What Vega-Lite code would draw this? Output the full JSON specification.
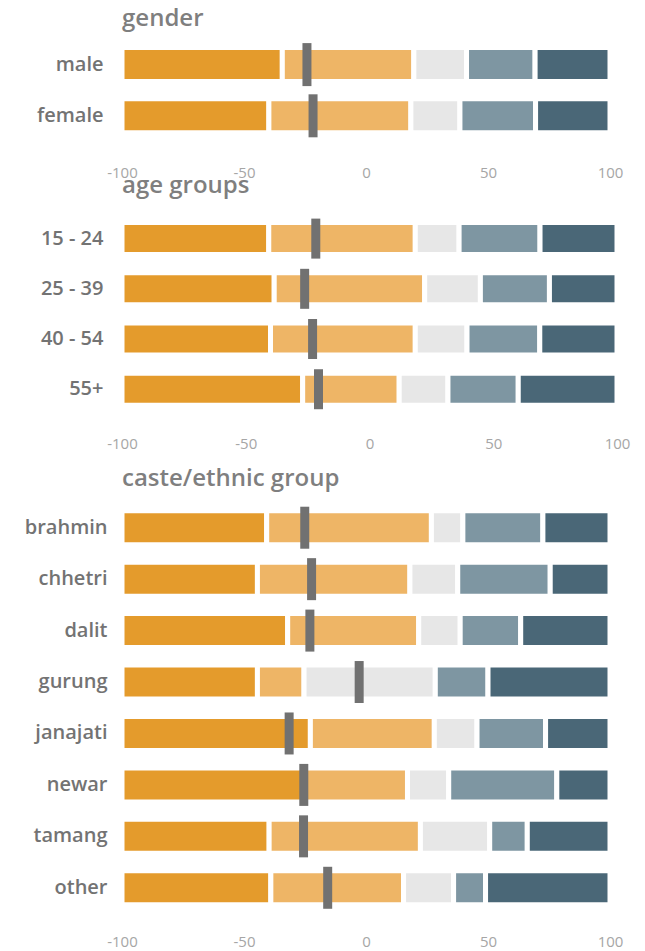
{
  "$schema": "https://vega.github.io/schema/vega-lite/v6.json",
  "background": "white",
  "padding": {"left": 24, "top": 7, "right": 5, "bottom": 0},
  "bounds": "flush",
  "spacing": 71.5,
  "config": {
    "view": {"stroke": null},
    "font": "Open Sans",
    "title": {"anchor": "start", "frame": "group", "fontSize": 24, "fontWeight": 600, "color": "#7f7f7f", "font": "Open Sans", "baseline": "alphabetic"},
    "axisX": {"domain": false, "ticks": false, "grid": false, "labelColor": "#a6a6a6", "labelFontSize": 15, "labelFont": "Open Sans", "labelFlush": false, "title": null, "labelExpr": "'' + datum.value"},
    "axisY": {"domain": false, "ticks": false, "grid": false, "labelColor": "#737373", "labelFontSize": 20, "labelFontWeight": 600, "labelFont": "Open Sans", "title": null}
  },
  "datasets": {
    "segs": [
      {"panel": "gender", "group": "male", "seg": "1", "start": -100, "end": -34.3},
      {"panel": "gender", "group": "male", "seg": "2", "start": -34.3, "end": 19.6},
      {"panel": "gender", "group": "male", "seg": "3", "start": 19.6, "end": 41.2},
      {"panel": "gender", "group": "male", "seg": "4", "start": 41.2, "end": 69.3},
      {"panel": "gender", "group": "male", "seg": "5", "start": 69.3, "end": 100},
      {"panel": "gender", "group": "female", "seg": "1", "start": -100, "end": -39.8},
      {"panel": "gender", "group": "female", "seg": "2", "start": -39.8, "end": 18.4},
      {"panel": "gender", "group": "female", "seg": "3", "start": 18.4, "end": 38.5},
      {"panel": "gender", "group": "female", "seg": "4", "start": 38.5, "end": 69.5},
      {"panel": "gender", "group": "female", "seg": "5", "start": 69.5, "end": 100},

      {"panel": "age", "group": "15 - 24", "seg": "1", "start": -100, "end": -40.7},
      {"panel": "age", "group": "15 - 24", "seg": "2", "start": -40.7, "end": 18.5},
      {"panel": "age", "group": "15 - 24", "seg": "3", "start": 18.5, "end": 36.2},
      {"panel": "age", "group": "15 - 24", "seg": "4", "start": 36.2, "end": 68.9},
      {"panel": "age", "group": "15 - 24", "seg": "5", "start": 68.9, "end": 100},
      {"panel": "age", "group": "25 - 39", "seg": "1", "start": -100, "end": -38.5},
      {"panel": "age", "group": "25 - 39", "seg": "2", "start": -38.5, "end": 22.3},
      {"panel": "age", "group": "25 - 39", "seg": "3", "start": 22.3, "end": 44.8},
      {"panel": "age", "group": "25 - 39", "seg": "4", "start": 44.8, "end": 72.7},
      {"panel": "age", "group": "25 - 39", "seg": "5", "start": 72.7, "end": 100},
      {"panel": "age", "group": "40 - 54", "seg": "1", "start": -100, "end": -40.0},
      {"panel": "age", "group": "40 - 54", "seg": "2", "start": -40.0, "end": 18.5},
      {"panel": "age", "group": "40 - 54", "seg": "3", "start": 18.5, "end": 39.4},
      {"panel": "age", "group": "40 - 54", "seg": "4", "start": 39.4, "end": 68.8},
      {"panel": "age", "group": "40 - 54", "seg": "5", "start": 68.8, "end": 100},
      {"panel": "age", "group": "55+", "seg": "1", "start": -100, "end": -27.0},
      {"panel": "age", "group": "55+", "seg": "2", "start": -27.0, "end": 12.0},
      {"panel": "age", "group": "55+", "seg": "3", "start": 12.0, "end": 31.7},
      {"panel": "age", "group": "55+", "seg": "4", "start": 31.7, "end": 60.1},
      {"panel": "age", "group": "55+", "seg": "5", "start": 60.1, "end": 100},

      {"panel": "caste", "group": "brahmin", "seg": "1", "start": -100, "end": -40.7},
      {"panel": "caste", "group": "brahmin", "seg": "2", "start": -40.7, "end": 26.8},
      {"panel": "caste", "group": "brahmin", "seg": "3", "start": 26.8, "end": 39.7},
      {"panel": "caste", "group": "brahmin", "seg": "4", "start": 39.7, "end": 72.5},
      {"panel": "caste", "group": "brahmin", "seg": "5", "start": 72.5, "end": 100},
      {"panel": "caste", "group": "chhetri", "seg": "1", "start": -100, "end": -44.5},
      {"panel": "caste", "group": "chhetri", "seg": "2", "start": -44.5, "end": 18.0},
      {"panel": "caste", "group": "chhetri", "seg": "3", "start": 18.0, "end": 37.6},
      {"panel": "caste", "group": "chhetri", "seg": "4", "start": 37.6, "end": 75.5},
      {"panel": "caste", "group": "chhetri", "seg": "5", "start": 75.5, "end": 100},
      {"panel": "caste", "group": "dalit", "seg": "1", "start": -100, "end": -32.1},
      {"panel": "caste", "group": "dalit", "seg": "2", "start": -32.1, "end": 21.6},
      {"panel": "caste", "group": "dalit", "seg": "3", "start": 21.6, "end": 38.6},
      {"panel": "caste", "group": "dalit", "seg": "4", "start": 38.6, "end": 63.4},
      {"panel": "caste", "group": "dalit", "seg": "5", "start": 63.4, "end": 100},
      {"panel": "caste", "group": "gurung", "seg": "1", "start": -100, "end": -44.5},
      {"panel": "caste", "group": "gurung", "seg": "2", "start": -44.5, "end": -25.4},
      {"panel": "caste", "group": "gurung", "seg": "3", "start": -25.4, "end": 28.4},
      {"panel": "caste", "group": "gurung", "seg": "4", "start": 28.4, "end": 50.0},
      {"panel": "caste", "group": "gurung", "seg": "5", "start": 50.0, "end": 100},
      {"panel": "caste", "group": "janajati", "seg": "1", "start": -100, "end": -22.8},
      {"panel": "caste", "group": "janajati", "seg": "2", "start": -22.8, "end": 28.0},
      {"panel": "caste", "group": "janajati", "seg": "3", "start": 28.0, "end": 45.5},
      {"panel": "caste", "group": "janajati", "seg": "4", "start": 45.5, "end": 73.6},
      {"panel": "caste", "group": "janajati", "seg": "5", "start": 73.6, "end": 100},
      {"panel": "caste", "group": "newar", "seg": "1", "start": -100, "end": -26.0},
      {"panel": "caste", "group": "newar", "seg": "2", "start": -26.0, "end": 17.0},
      {"panel": "caste", "group": "newar", "seg": "3", "start": 17.0, "end": 33.9},
      {"panel": "caste", "group": "newar", "seg": "4", "start": 33.9, "end": 78.2},
      {"panel": "caste", "group": "newar", "seg": "5", "start": 78.2, "end": 100},
      {"panel": "caste", "group": "tamang", "seg": "1", "start": -100, "end": -39.7},
      {"panel": "caste", "group": "tamang", "seg": "2", "start": -39.7, "end": 22.3},
      {"panel": "caste", "group": "tamang", "seg": "3", "start": 22.3, "end": 50.7},
      {"panel": "caste", "group": "tamang", "seg": "4", "start": 50.7, "end": 66.1},
      {"panel": "caste", "group": "tamang", "seg": "5", "start": 66.1, "end": 100},
      {"panel": "caste", "group": "other", "seg": "1", "start": -100, "end": -39.0},
      {"panel": "caste", "group": "other", "seg": "2", "start": -39.0, "end": 15.4},
      {"panel": "caste", "group": "other", "seg": "3", "start": 15.4, "end": 35.9},
      {"panel": "caste", "group": "other", "seg": "4", "start": 35.9, "end": 49.0},
      {"panel": "caste", "group": "other", "seg": "5", "start": 49.0, "end": 100}
    ],
    "means": [
      {"panel": "gender", "group": "male", "mean": -24.2},
      {"panel": "gender", "group": "female", "mean": -21.7},
      {"panel": "age", "group": "15 - 24", "mean": -21.7},
      {"panel": "age", "group": "25 - 39", "mean": -26.2},
      {"panel": "age", "group": "40 - 54", "mean": -23.0},
      {"panel": "age", "group": "55+", "mean": -20.6},
      {"panel": "caste", "group": "brahmin", "mean": -25.1},
      {"panel": "caste", "group": "chhetri", "mean": -22.3},
      {"panel": "caste", "group": "dalit", "mean": -23.0},
      {"panel": "caste", "group": "gurung", "mean": -2.8},
      {"panel": "caste", "group": "janajati", "mean": -31.5},
      {"panel": "caste", "group": "newar", "mean": -25.5},
      {"panel": "caste", "group": "tamang", "mean": -25.6},
      {"panel": "caste", "group": "other", "mean": -15.7}
    ]
  },
  "vconcat": [
    {
      "title": {"text": "gender", "offset": 8},
      "width": 488,
      "height": 102.4,
      "layer": [
        {
          "data": {"name": "segs"},
          "transform": [{"filter": {"field": "panel", "equal": "gender"}}],
          "mark": {"type": "bar", "size": 34, "stroke": "white", "strokeWidth": 5},
          "encoding": {
            "x": {"field": "start", "type": "quantitative", "scale": {"domain": [-100, 100], "nice": false}, "axis": {"labelPadding": 24, "values": [-100, -50, 0, 50, 100]}},
            "x2": {"field": "end"},
            "y": {"field": "group", "type": "nominal", "sort": null, "scale": {"paddingInner": 0, "paddingOuter": 0}, "axis": {"labelPadding": 19}},
            "color": {"field": "seg", "type": "nominal", "scale": {"domain": ["1", "2", "3", "4", "5"], "range": ["#E49B2C", "#EEB566", "#E7E7E7", "#7E96A2", "#4A6777"]}, "legend": null}
          }
        },
        {
          "data": {"name": "means"},
          "transform": [{"filter": {"field": "panel", "equal": "gender"}}],
          "mark": {"type": "tick", "thickness": 9, "size": 43, "color": "#717171", "opacity": 1},
          "encoding": {
            "x": {"field": "mean", "type": "quantitative"},
            "y": {"field": "group", "type": "nominal", "sort": null}
          }
        }
      ]
    },
    {
      "title": {"text": "age groups", "offset": 16},
      "width": 495,
      "height": 216.9,
      "layer": [
        {
          "data": {"name": "segs"},
          "transform": [{"filter": {"field": "panel", "equal": "age"}}],
          "mark": {"type": "bar", "size": 32, "stroke": "white", "strokeWidth": 5},
          "encoding": {
            "x": {"field": "start", "type": "quantitative", "scale": {"domain": [-100, 100], "nice": false}, "axis": {"labelPadding": 6.5, "values": [-100, -50, 0, 50, 100]}},
            "x2": {"field": "end"},
            "y": {"field": "group", "type": "nominal", "sort": null, "scale": {"paddingInner": 0, "paddingOuter": 0.16, "align": 0}, "axis": {"labelPadding": 19}},
            "color": {"field": "seg", "type": "nominal", "scale": {"domain": ["1", "2", "3", "4", "5"], "range": ["#E49B2C", "#EEB566", "#E7E7E7", "#7E96A2", "#4A6777"]}, "legend": null}
          }
        },
        {
          "data": {"name": "means"},
          "transform": [{"filter": {"field": "panel", "equal": "age"}}],
          "mark": {"type": "tick", "thickness": 9, "size": 40, "color": "#717171", "opacity": 1},
          "encoding": {
            "x": {"field": "mean", "type": "quantitative"},
            "y": {"field": "group", "type": "nominal", "sort": null}
          }
        }
      ]
    },
    {
      "title": {"text": "caste/ethnic group", "offset": 11.5},
      "width": 488,
      "height": 411.5,
      "layer": [
        {
          "data": {"name": "segs"},
          "transform": [{"filter": {"field": "panel", "equal": "caste"}}],
          "mark": {"type": "bar", "size": 34, "stroke": "white", "strokeWidth": 5},
          "encoding": {
            "x": {"field": "start", "type": "quantitative", "scale": {"domain": [-100, 100], "nice": false}, "axis": {"labelPadding": 20.5, "values": [-100, -50, 0, 50, 100]}},
            "x2": {"field": "end"},
            "y": {"field": "group", "type": "nominal", "sort": null, "scale": {"paddingInner": 0, "paddingOuter": 0}, "axis": {"labelPadding": 15}},
            "color": {"field": "seg", "type": "nominal", "scale": {"domain": ["1", "2", "3", "4", "5"], "range": ["#E49B2C", "#EEB566", "#E7E7E7", "#7E96A2", "#4A6777"]}, "legend": null}
          }
        },
        {
          "data": {"name": "means"},
          "transform": [{"filter": {"field": "panel", "equal": "caste"}}],
          "mark": {"type": "tick", "thickness": 9, "size": 42, "color": "#717171", "opacity": 1},
          "encoding": {
            "x": {"field": "mean", "type": "quantitative"},
            "y": {"field": "group", "type": "nominal", "sort": null}
          }
        }
      ]
    }
  ]
}
